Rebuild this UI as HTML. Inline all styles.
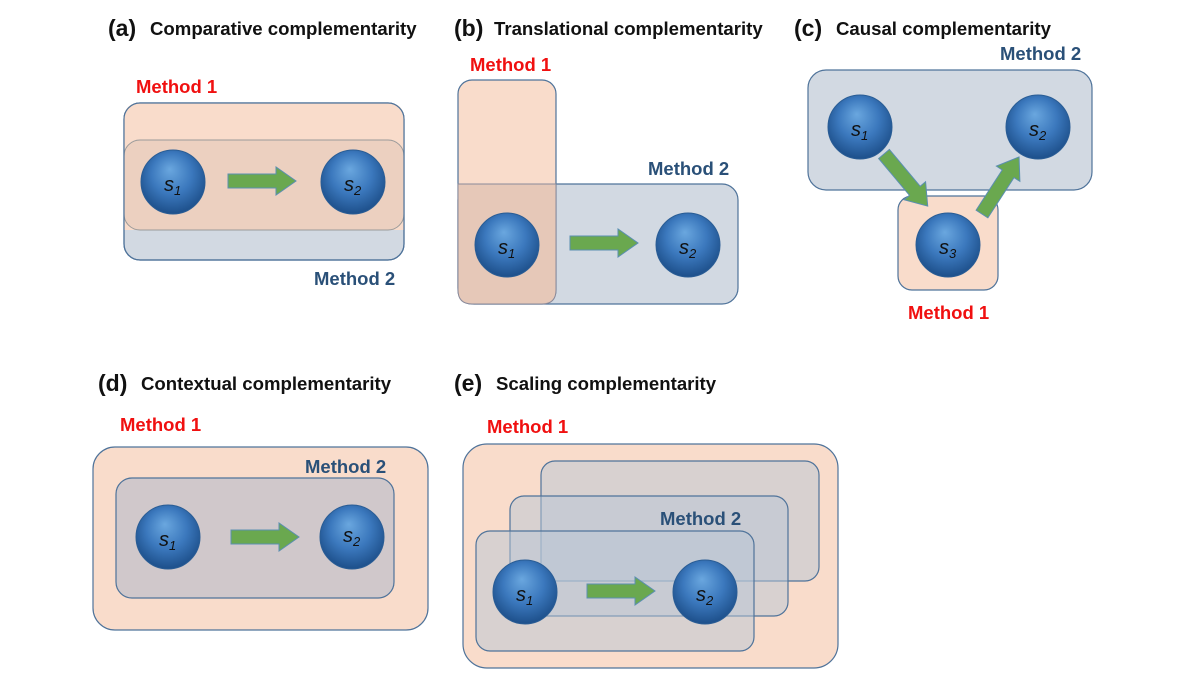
<!DOCTYPE html>
<html><head><meta charset="utf-8"><style>
html,body{margin:0;padding:0;background:#fff;}
svg{display:block;font-family:"Liberation Sans",sans-serif;}
.t{font-weight:bold;font-size:18.6px;fill:#111;}
.p{font-weight:bold;font-size:23px;fill:#111;}
.m1{font-weight:bold;font-size:18.5px;fill:#f01010;}
.m2{font-weight:bold;font-size:18.5px;fill:#2a5078;}
.s{font-style:italic;font-size:20px;fill:#111;}
</style></head><body>
<svg width="1202" height="680" viewBox="0 0 1202 680">
<defs>
<radialGradient id="sp" cx="50%" cy="42%" r="58%" fx="45%" fy="30%">
<stop offset="0" stop-color="#6aa7df"/><stop offset="0.55" stop-color="#3b78bd"/><stop offset="1" stop-color="#1d4f8a"/>
</radialGradient>
<g id="sph"><circle r="32" fill="url(#sp)" stroke="#2a5d95" stroke-width="1"/></g>
<g id="arr"><path d="M0,-7 H48 V-14 L68,0 L48,14 V7 H0 Z" fill="#6aa84f" stroke="#5b8fb0" stroke-width="1"/></g>
</defs>

<text x="108" y="36" class="p">(a)</text><text x="150" y="35" class="t">Comparative complementarity</text>
<text x="454" y="36" class="p">(b)</text><text x="494" y="35" class="t">Translational complementarity</text>
<text x="794" y="36" class="p">(c)</text><text x="836" y="35" class="t">Causal complementarity</text>
<text x="98" y="391" class="p">(d)</text><text x="141" y="390" class="t">Contextual complementarity</text>
<text x="454" y="391" class="p">(e)</text><text x="496" y="390" class="t">Scaling complementarity</text>

<!-- (a) -->
<rect x="124" y="103" width="280" height="157" rx="16" fill="#d2d9e2" stroke="#4f739a" stroke-width="1.2"/>
<path d="M140,103 H388 Q404,103 404,119 V230 H124 V119 Q124,103 140,103Z" fill="#f9dccb"/>
<rect x="124" y="140" width="280" height="90" rx="16" fill="#ecd0c0" stroke="#9a9a9a" stroke-width="1"/>
<rect x="124" y="103" width="280" height="157" rx="16" fill="none" stroke="#4f739a" stroke-width="1.2"/>
<text x="136" y="93" class="m1">Method 1</text>
<text x="314" y="285" class="m2">Method 2</text>
<use href="#sph" x="173" y="182"/><use href="#sph" x="353" y="182"/>
<use href="#arr" x="228" y="181"/>
<text x="164" y="191" class="s">s<tspan font-size="13" dy="4">1</tspan></text>
<text x="344" y="191" class="s">s<tspan font-size="13" dy="4">2</tspan></text>

<!-- (b) -->
<rect x="458" y="184" width="280" height="120" rx="16" fill="#d2d9e2" stroke="#4f739a" stroke-width="1.2"/>
<rect x="458" y="80" width="98" height="224" rx="14" fill="#f9dccb" stroke="#4f739a" stroke-width="1.2"/>
<path d="M458,184 H556 V290 Q556,304 542,304 H472 Q458,304 458,290Z" fill="#e6c8b8" stroke="#8a8a9a" stroke-width="1"/>
<text x="470" y="71" class="m1">Method 1</text>
<text x="648" y="175" class="m2">Method 2</text>
<use href="#sph" x="507" y="245"/><use href="#sph" x="688" y="245"/>
<use href="#arr" x="570" y="243"/>
<text x="498" y="254" class="s">s<tspan font-size="13" dy="4">1</tspan></text>
<text x="679" y="254" class="s">s<tspan font-size="13" dy="4">2</tspan></text>

<!-- (c) -->
<rect x="808" y="70" width="284" height="120" rx="18" fill="#d2d9e2" stroke="#4f739a" stroke-width="1.2"/>
<rect x="898" y="196" width="100" height="94" rx="14" fill="#f9dccb" stroke="#4f739a" stroke-width="1.2"/>
<text x="1000" y="60" class="m2">Method 2</text>
<text x="908" y="319" class="m1">Method 1</text>
<use href="#sph" x="860" y="127"/><use href="#sph" x="1038" y="127"/><use href="#sph" x="948" y="245"/>
<use href="#arr" transform="translate(884,154) rotate(50) scale(1.0)"/>
<use href="#arr" transform="translate(982,214) rotate(-57) scale(1.0)"/>
<text x="851" y="136" class="s">s<tspan font-size="13" dy="4">1</tspan></text>
<text x="1029" y="136" class="s">s<tspan font-size="13" dy="4">2</tspan></text>
<text x="939" y="254" class="s">s<tspan font-size="13" dy="4">3</tspan></text>

<!-- (d) -->
<rect x="93" y="447" width="335" height="183" rx="22" fill="#f9dccb" stroke="#4f739a" stroke-width="1.2"/>
<rect x="116" y="478" width="278" height="120" rx="16" fill="#d0c8cb" stroke="#4f739a" stroke-width="1.2"/>
<text x="120" y="431" class="m1">Method 1</text>
<text x="305" y="473" class="m2">Method 2</text>
<use href="#sph" x="168" y="537"/><use href="#sph" x="352" y="537"/>
<use href="#arr" x="231" y="537"/>
<text x="159" y="546" class="s">s<tspan font-size="13" dy="4">1</tspan></text>
<text x="343" y="542" class="s">s<tspan font-size="13" dy="4">2</tspan></text>

<!-- (e) -->
<rect x="463" y="444" width="375" height="224" rx="24" fill="#f9dccb" stroke="#4f739a" stroke-width="1.2"/>
<rect x="541" y="461" width="278" height="120" rx="14" fill="#b8c6d6" fill-opacity="0.5" stroke="#4f739a" stroke-width="1.2"/>
<rect x="510" y="496" width="278" height="120" rx="14" fill="#b8c6d6" fill-opacity="0.5" stroke="#4f739a" stroke-width="1.2"/>
<rect x="476" y="531" width="278" height="120" rx="14" fill="#b8c6d6" fill-opacity="0.5" stroke="#4f739a" stroke-width="1.2"/>
<text x="487" y="433" class="m1">Method 1</text>
<text x="660" y="525" class="m2">Method 2</text>
<use href="#sph" x="525" y="592"/><use href="#sph" x="705" y="592"/>
<use href="#arr" x="587" y="591"/>
<text x="516" y="601" class="s">s<tspan font-size="13" dy="4">1</tspan></text>
<text x="696" y="601" class="s">s<tspan font-size="13" dy="4">2</tspan></text>
</svg>
</body></html>
